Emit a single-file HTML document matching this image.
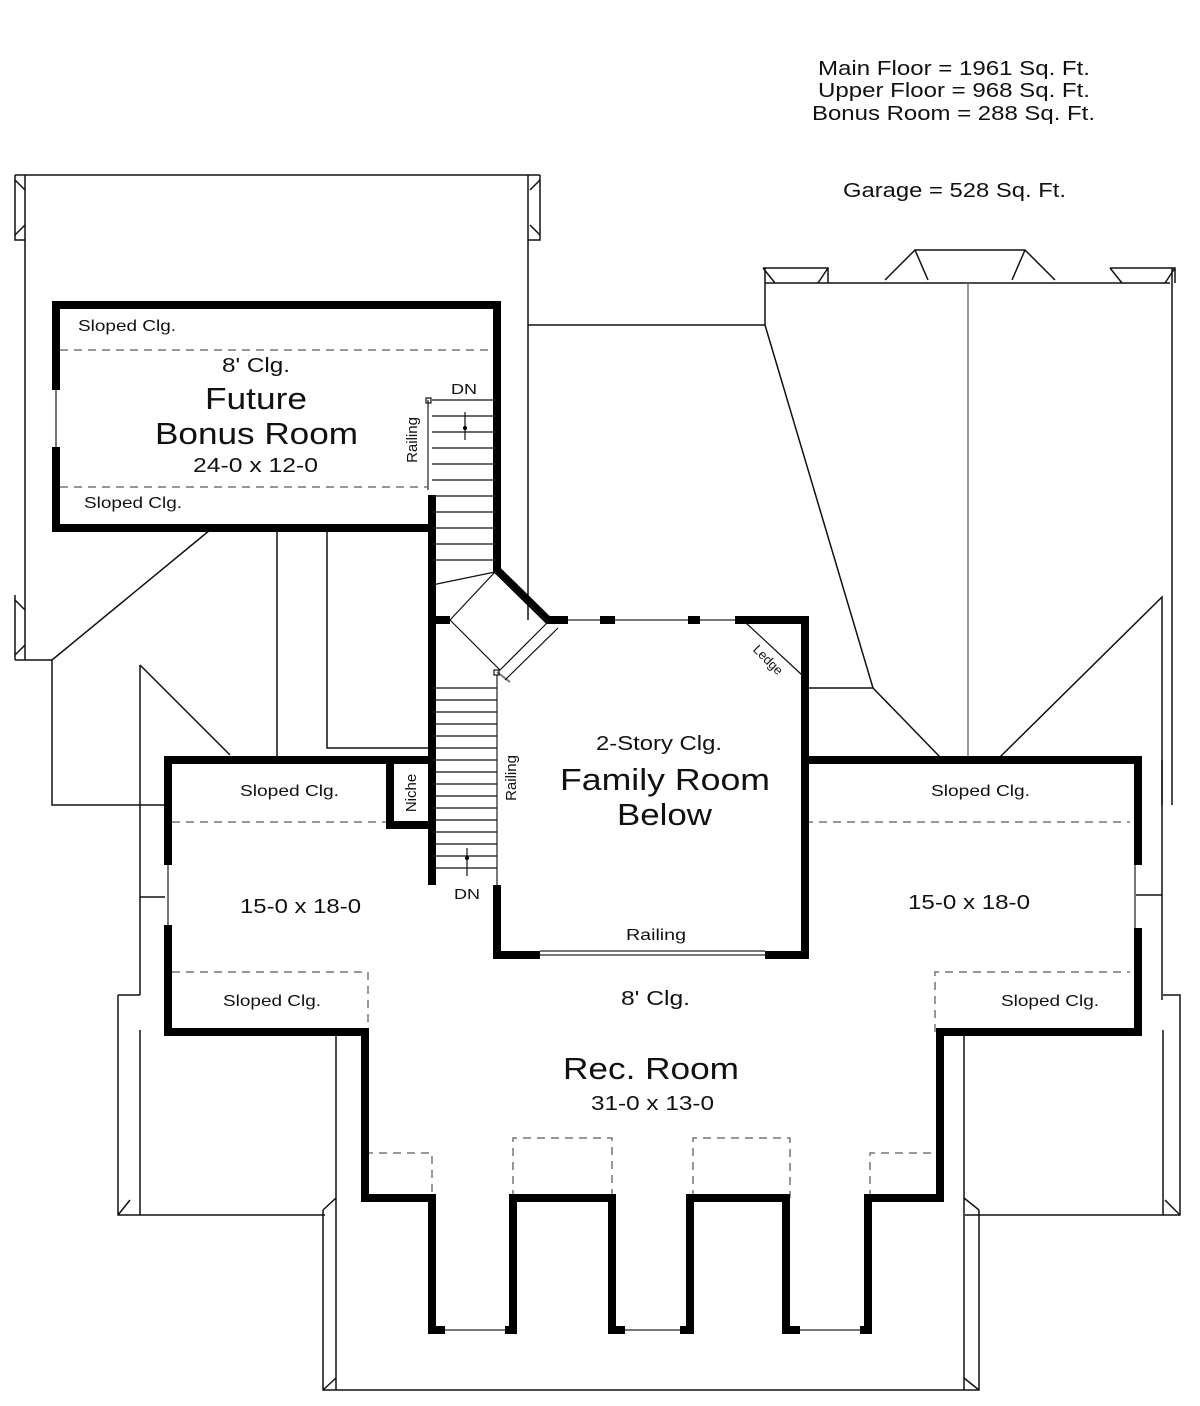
<!DOCTYPE html>
<html><head><style>body{margin:0;background:#fff}svg{display:block}text{font-family:"Liberation Sans",sans-serif;fill:#111}</style></head><body>
<svg width="1200" height="1406" viewBox="0 0 1200 1406" xmlns="http://www.w3.org/2000/svg">
<g fill="none" stroke="#111" stroke-width="1.5">
<path d="M15,175 H540 M25,175 V660 M15,660 H52 M528,175 V620 M15,175 V240 H25 M15,595 V660 M540,175 V240 H528"/>
<path d="M15,180 L25,190 M15,235 L25,225 M540,180 L530,190 M540,235 L530,225 M15,600 L25,610 M15,655 L25,645"/>
<path d="M528,325 H765"/>
<path d="M52,660 V805 H165 M52,660 L210,530 M277,530 V757 M327,530 V748 H428"/>
<path d="M140,665 L230,755 M140,665 V995 M140,897 H165"/>
<path d="M763,268 H828 V283 M1110,268 H1175 V283 M765,283 H1170 M765,268 V325 M763,268 L775,283 M828,268 L818,283 M1110,268 L1122,283 M1175,268 L1165,283"/>
<path d="M885,280 L915,250 H1025 L1055,280 M915,250 L928,280 M1025,250 L1012,280"/>
<path d="M1172,268 V805 M765,325 L873,688 L940,757 M873,688 H808 M1000,757 L1162,597 V805" />
<path stroke="#777" d="M968,283 V760"/>
<path d="M1135,840 V895 H1162 M1162,760 V1000"/>
<path d="M118,995 H140 M118,995 V1215 H325 M118,1215 L130,1200 M140,1030 V1215"/>
<path d="M1163,995 H1180 V1215 H965 M1180,1215 L1165,1200 M1163,1030 V1215"/>
<path d="M323,1210 V1390 H979 V1210 M336,1035 V1390 M964,1035 V1390 M323,1210 L336,1198 M979,1210 L964,1198 M323,1390 L336,1378 M979,1390 L964,1378"/>
</g>
<g stroke="#777" stroke-width="2" fill="none">
<path d="M56,390 V447 M168,865 V925 M1135,865 V928 M540,955 H765 M445,1330 H505 M625,1330 H680 M800,1330 H860 M568,620 H735 M497,675 V885 M428,400 V490"/>
<path d="M540,951 H765 M497,672 L510,682"/>
</g>
<g stroke="#777" stroke-width="1.5" stroke-dasharray="8,6" fill="none">
<path d="M60,350 H495 M60,487 H428 M172,822 H390 M805,822 H1130"/>
<path d="M172,972 H368 V1032 M935,1032 V972 H1130"/>
<path d="M365,1153 H432 V1198 M513,1198 V1138 H612 V1198 M693,1198 V1138 H790 V1198 M870,1198 V1153 H935"/>
</g>
<g stroke="#000" stroke-width="8" fill="none" stroke-linejoin="miter">
<path d="M56,390 V305 H497 V570 L548,620 H568"/>
<path d="M56,447 V528 H432"/>
<path d="M432,495 V620 H450 M432,620 V885"/>
<path d="M600,620 H615 M688,620 H700 M735,620 H805 V955 H765 M540,955 H497 V885"/>
<path d="M432,760 H168 V865 M168,925 V1032 H365 V1198 H432 V1330 H445 M505,1330 H513 V1198 H612 V1330 H625 M680,1330 H690 V1198 H786 V1330 H800 M860,1330 H868 V1198 H940 V1032 H1138 V928 M1138,865 V760 H805"/>
<path d="M390,762 V825 H432"/>
</g>
<g stroke="#111" stroke-width="1.2" fill="none">
<path d="M432,400 H497 M432,416 H497 M432,432 H497 M432,448 H497 M432,464 H497 M432,480 H497 M432,496 H497 M432,512 H497 M432,528 H497 M432,544 H497 M432,560 H497 M432,585 L495,572"/>
<path d="M432,688 H497 M432,700 H497 M432,712 H497 M432,724 H497 M432,736 H497 M432,748 H497 M432,760 H497 M432,772 H497 M432,784 H497 M432,796 H497 M432,808 H497 M432,820 H497 M432,832 H497 M432,844 H497 M432,856 H497 M432,868 H497"/>
<path d="M450,620 L495,572 L548,622 L500,670 Z M505,680 L558,628"/>
<path d="M465,412 V440 M467,848 V876 M745,622 L802,675"/>
<rect x="426" y="398" width="5" height="5"/>
<rect x="494" y="670" width="5" height="5"/>
</g>
<circle cx="465" cy="428" r="2"/><circle cx="467" cy="858" r="2"/>
<g text-anchor="start" lengthAdjust="spacingAndGlyphs">
<text x="818" y="75" font-size="20" textLength="272" lengthAdjust="spacingAndGlyphs">Main Floor = 1961 Sq. Ft.</text>
<text x="818" y="97" font-size="20" textLength="272" lengthAdjust="spacingAndGlyphs">Upper Floor = 968 Sq. Ft.</text>
<text x="812" y="120" font-size="20" textLength="283" lengthAdjust="spacingAndGlyphs">Bonus Room = 288 Sq. Ft.</text>
<text x="843" y="197" font-size="20" textLength="223" lengthAdjust="spacingAndGlyphs">Garage = 528 Sq. Ft.</text>
<text x="78" y="331" font-size="16" textLength="98" lengthAdjust="spacingAndGlyphs">Sloped Clg.</text>
<text x="222" y="372" font-size="20" textLength="68" lengthAdjust="spacingAndGlyphs">8' Clg.</text>
<text x="205" y="409" font-size="31" textLength="102" lengthAdjust="spacingAndGlyphs">Future</text>
<text x="155" y="444" font-size="31" textLength="203" lengthAdjust="spacingAndGlyphs">Bonus Room</text>
<text x="193" y="472" font-size="20" textLength="125" lengthAdjust="spacingAndGlyphs">24-0 x 12-0</text>
<text x="84" y="508" font-size="16" textLength="98" lengthAdjust="spacingAndGlyphs">Sloped Clg.</text>
<text x="451" y="394" font-size="15" textLength="26" lengthAdjust="spacingAndGlyphs">DN</text>
<text x="454" y="899" font-size="15" textLength="26" lengthAdjust="spacingAndGlyphs">DN</text>
<text x="596" y="750" font-size="20" textLength="126" lengthAdjust="spacingAndGlyphs">2-Story Clg.</text>
<text x="560" y="790" font-size="31" textLength="210" lengthAdjust="spacingAndGlyphs">Family Room</text>
<text x="617" y="825" font-size="31" textLength="95" lengthAdjust="spacingAndGlyphs">Below</text>
<text x="626" y="940" font-size="16" textLength="60" lengthAdjust="spacingAndGlyphs">Railing</text>
<text x="240" y="796" font-size="16" textLength="99" lengthAdjust="spacingAndGlyphs">Sloped Clg.</text>
<text x="931" y="796" font-size="16" textLength="99" lengthAdjust="spacingAndGlyphs">Sloped Clg.</text>
<text x="240" y="913" font-size="20" textLength="121" lengthAdjust="spacingAndGlyphs">15-0 x 18-0</text>
<text x="908" y="909" font-size="20" textLength="122" lengthAdjust="spacingAndGlyphs">15-0 x 18-0</text>
<text x="223" y="1006" font-size="16" textLength="98" lengthAdjust="spacingAndGlyphs">Sloped Clg.</text>
<text x="1001" y="1006" font-size="16" textLength="98" lengthAdjust="spacingAndGlyphs">Sloped Clg.</text>
<text x="621" y="1005" font-size="20" textLength="69" lengthAdjust="spacingAndGlyphs">8' Clg.</text>
<text x="563" y="1079" font-size="31" textLength="176" lengthAdjust="spacingAndGlyphs">Rec. Room</text>
<text x="591" y="1110" font-size="20" textLength="123" lengthAdjust="spacingAndGlyphs">31-0 x 13-0</text>
</g>
<g text-anchor="middle">
<text transform="translate(417,440) rotate(-90)" font-size="15">Railing</text>
<text transform="translate(516,778) rotate(-90)" font-size="15">Railing</text>
<text transform="translate(416,793) rotate(-90)" font-size="15">Niche</text>
<text transform="translate(765,663) rotate(45)" font-size="13">Ledge</text>
</g>
</svg>
</body></html>
